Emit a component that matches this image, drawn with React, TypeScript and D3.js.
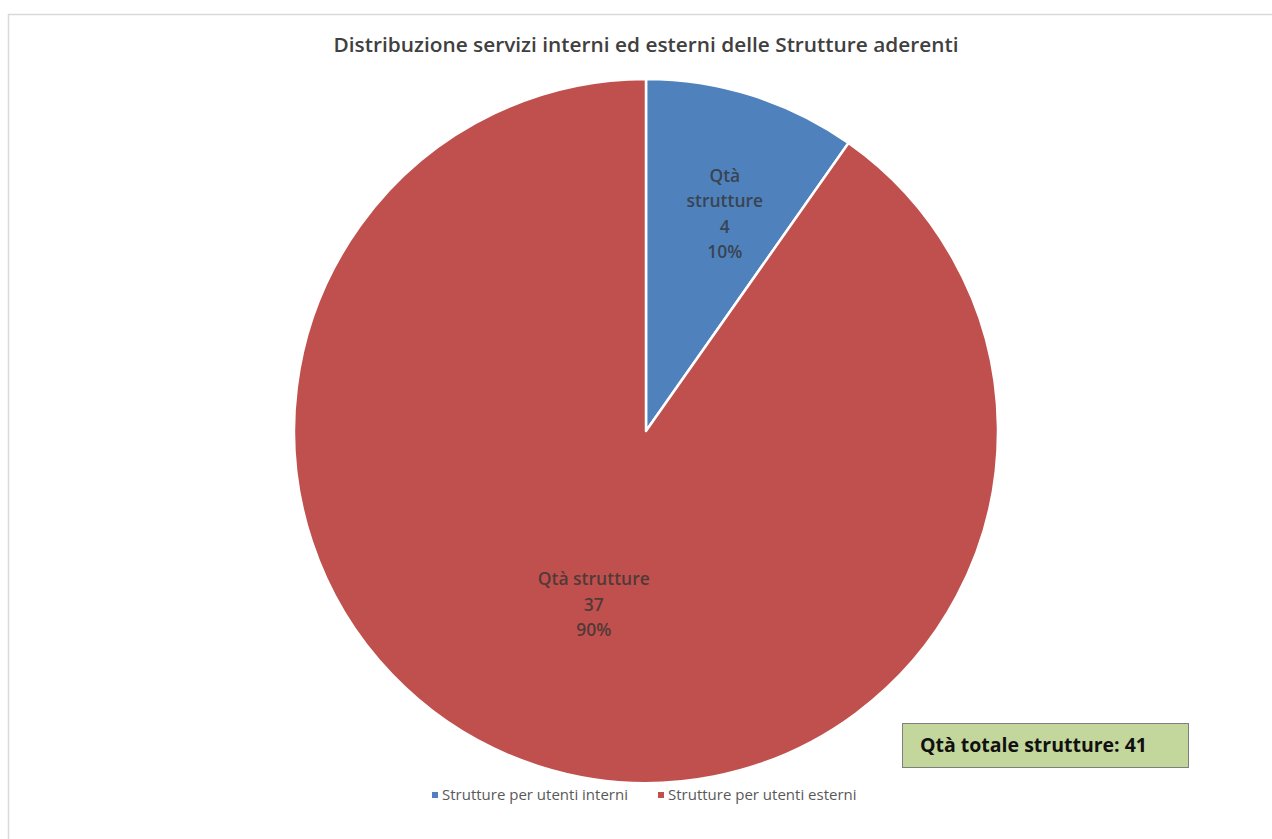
import React from "react";
import * as d3 from "d3";

const categories = ["Strutture per utenti interni", "Strutture per utenti esterni"];
const values = [4, 37];
const colors = ["#4F81BD", "#C0504D"];
const labelName = "Qtà strutture";
const title = "Distribuzione servizi interni ed esterni delle Strutture aderenti";
const totalLabel = "Qtà totale strutture: ";

const W = 1272;
const H = 839;
const cx = 646;
const cy = 431;
const R = 352;

export default function App() {
  const total = d3.sum(values);
  const pie = d3.pie<number>().sort(null).value((d) => d);
  const arcs = pie(values);
  const arc = d3.arc<d3.PieArcDatum<number>>().innerRadius(0).outerRadius(R);
  const font = "Open Sans, Noto Sans, sans-serif";
  const labelLines = [
    ["Qtà", "strutture", String(values[0]), d3.format(".0%")(values[0] / total)],
    [labelName, String(values[1]), d3.format(".0%")(values[1] / total)],
  ];
  const labelPos = arcs.map((a, i) => {
    const mid = (a.startAngle + a.endAngle) / 2;
    const rr = i === 0 ? R * 0.62 : R * 0.52;
    return [cx + Math.sin(mid) * rr + (i === 0 ? 13 : 3), cy - Math.cos(mid) * rr + (i === 0 ? -9 : -1)];
  });
  const legendX = [432, 658];
  return (
    <svg width={W} height={H} style={{ position: "absolute", left: 0, top: 0, background: "#fff" }}>
      <rect x={8.5} y={14.5} width={W} height={H} fill="#fff" stroke="#d9d9d9" strokeWidth={1.5} />
      <text x={646} y={52} textAnchor="middle" fontFamily={font} fontWeight={600} fontSize={19} fill="#404040" textLength={625} lengthAdjust="spacingAndGlyphs">
        {title}
      </text>
      <g transform={`translate(${cx},${cy})`}>
        {arcs.map((a, i) => (
          <path key={i} d={arc(a) || ""} fill={colors[i]} stroke="#fff" strokeWidth={2.5} strokeLinejoin="round" />
        ))}
      </g>
      {labelLines.map((lines, i) => {
        const [x, y] = labelPos[i];
        const lh = 25.5;
        const y0 = y - ((lines.length - 1) * lh) / 2;
        return (
          <text key={i} textAnchor="middle" fontFamily={font} fontWeight={600} fontSize={17.5} fill="#333" fillOpacity={0.8}>
            {lines.map((l, j) => (
              <tspan key={j} x={x} y={y0 + j * lh} dy="0.35em">{l}</tspan>
            ))}
          </text>
        );
      })}
      <rect x={902.5} y={723.5} width={286} height={44} fill="#C3D69B" stroke="#7f7f7f" strokeWidth={1} />
      <text x={920} y={752} fontFamily={font} fontWeight={700} fontSize={19.5} fill="#111">
        {totalLabel + total}
      </text>
      {categories.map((c, i) => (
        <g key={i}>
          <rect x={legendX[i]} y={792} width={6} height={6} fill={colors[i]} />
          <text x={legendX[i] + 10} y={800} fontFamily={font} fontSize={15} fill="#595959">{c}</text>
        </g>
      ))}
    </svg>
  );
}
